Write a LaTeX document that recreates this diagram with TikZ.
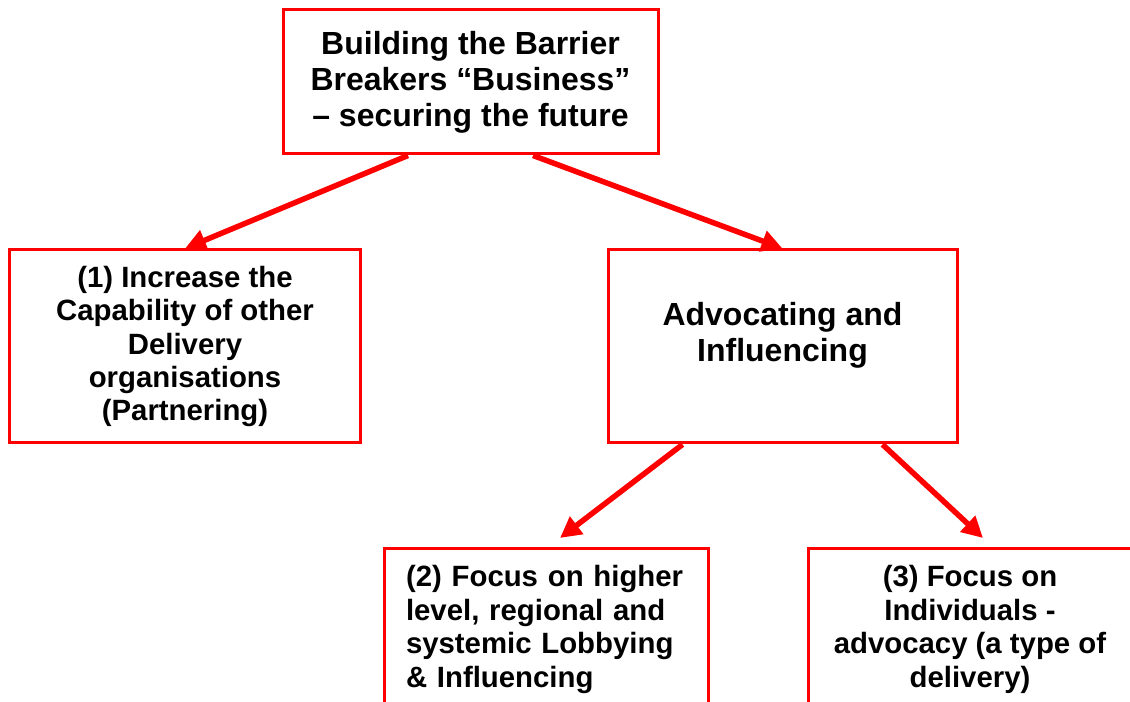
\documentclass[tikz,border=0pt]{standalone}
\usepackage{fontspec}
\setmainfont{Liberation Sans}
\usetikzlibrary{arrows.meta}

\begin{document}
\begin{tikzpicture}[
	box/.style={draw=red, line width=0.06cm, fill=white, align=center, inner sep=0.2cm},
	bigbox/.style={box, font=\bfseries\fontsize{18.2}{20.5}\selectfont},
	smallbox/.style={box, font=\bfseries\fontsize{16.7}{19}\selectfont},
	link/.style={draw=red, line width=0.11cm, -{Triangle[length=0.42cm,width=0.42cm]}}
	]
	\useasboundingbox (0,0) rectangle (22.6,14.04);
	\clip (0,0) rectangle (22.6,14.04);
	\node[bigbox, minimum width=7.5cm, minimum height=2.88cm] (top) at (9.41,12.4)
		{Building the Barrier\\Breakers “Business”\\– securing the future};
	\node[smallbox, minimum width=7cm, minimum height=3.86cm] (cap) at (3.7,7.11)
		{(1) Increase the\\Capability of other\\Delivery\\organisations\\(Partnering)};
	\node[bigbox, minimum width=6.98cm, minimum height=3.86cm, text depth=0.6cm] (adv) at (15.65,7.11)
		{Advocating and\\Influencing};
	\node[smallbox, anchor=north, align=left, text width=5.6cm, inner xsep=0.44cm, minimum height=3.24cm] (lob) at (10.92,3.1)
		{(2) Focus on higher\\level, regional and\\systemic Lobbying\\\& Influencing};
	\node[smallbox, anchor=north, minimum width=6.48cm, minimum height=3.24cm] (ind) at (19.4,3.1)
		{(3) Focus on\\Individuals -\\advocacy (a type of\\delivery)};
	\draw[link] ([xshift=-1.25cm]top.south) -- (cap.north);
	\draw[link] ([xshift=1.25cm]top.south) -- (adv.north);
	\draw[link] ([xshift=-2cm]adv.south) -- ([shift={(0.28,0.18)}]lob.north);
	\draw[link] ([xshift=2cm]adv.south) -- ([shift={(0.26,0.18)}]ind.north);
\end{tikzpicture}
\end{document}
